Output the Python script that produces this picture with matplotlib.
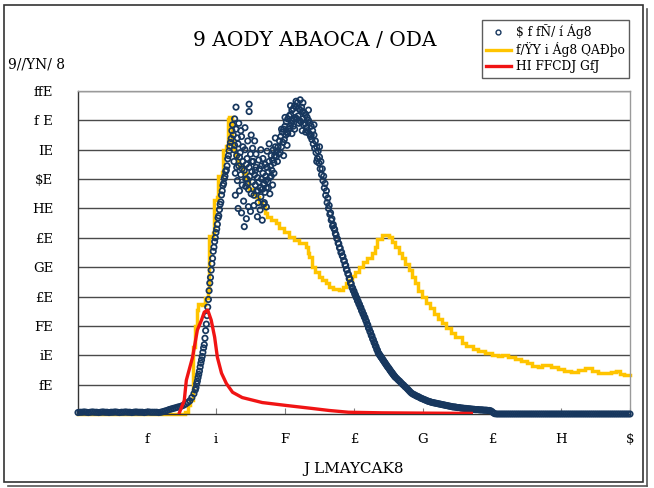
import numpy as np
import matplotlib
matplotlib.use("Agg")
import matplotlib.pyplot as plt
from matplotlib.lines import Line2D
from matplotlib.patches import Rectangle

# ---------------- data ----------------
title = "9 AODY ABAOCA / ODA"
y_label = "9//YN/ 8"
x_label = "J LMAYCAK8"
series_names = ["$ f fÑ/ í Ág8", "f/ŸY i Ág8 QAÐþo", "HI FFCDJ GfJ"]

x_ticks = [1, 2, 3, 4, 5, 6, 7, 8]
x_tick_labels = ["f", "i", "F", "£", "G", "£", "H", "$"]
y_ticks = [10, 20, 30, 40, 50, 60, 70, 80, 90, 100, 110]
y_tick_labels = ["fE", "iE", "FE", "£E", "GE", "£E", "HE", "$E", "IE", "f E", "ffE"]

# blue scatter series, by segment (segment x range + values)
blue_seg1_range = (0.00, 1.14)
blue_seg1 = [0.5, 0.6, 0.6, 0.7, 0.6, 0.5, 0.6, 0.7, 0.6, 0.6,
             0.5, 0.6, 0.7, 0.6, 0.6, 0.5, 0.6, 0.6, 0.7, 0.6,
             0.5, 0.6, 0.6, 0.7, 0.6, 0.6, 0.5, 0.6, 0.7, 0.6,
             0.6, 0.6, 0.5, 0.6, 0.7, 0.6, 0.6, 0.6, 0.6]
blue_seg2_range = (1.17, 1.68)
blue_seg2 = [0.5, 0.6, 0.8, 1.0, 1.2, 1.5, 1.7, 1.9, 2.1, 2.3, 2.5, 2.7, 3.0, 3.4,
             3.9, 4.5, 5.6, 6.9]
blue_seg3_range = (1.70, 2.24)
blue_seg3 = [8.2, 9.0, 10.3, 11.2, 12.4, 13.5, 14.6, 16.0, 17.3, 18.4,
             19.6, 21.0, 22.5, 23.6, 25.8, 28.4, 30.6, 33.5, 36.4, 39.0,
             42.0, 44.6, 46.5, 49.0, 51.2, 53.0, 55.4, 56.8, 58.7, 60.0,
             61.8, 63.0, 64.6, 66.8, 67.5, 69.6, 71.4, 72.2, 74.6, 76.0,
             77.8, 78.5, 80.2, 81.0, 82.6, 83.1, 84.5, 86.9, 88.0, 89.6,
             91.2, 92.5, 93.8, 96.5, 98.5]
blue_seg4_range = (2.25, 2.87)
blue_seg4 = [95.0, 86.0, 91.5, 82.0, 97.0, 88.0, 79.5, 92.0, 84.5, 76.0,
             89.0, 81.5, 94.5, 78.0, 86.0, 72.5, 83.0, 90.0, 77.5, 85.0,
             80.0, 93.0, 76.5, 84.0, 81.0, 88.5, 75.0, 82.5, 79.0, 86.0,
             74.5, 81.5, 78.0, 84.0, 76.0, 80.5, 72.0, 79.0, 83.5, 77.0,
             74.0, 80.0, 76.5, 82.0, 71.5, 78.5, 75.5, 81.0, 77.0, 84.0,
             79.0, 82.5, 86.0, 80.5, 84.5, 88.0, 83.0, 86.5, 90.0, 85.5,
             88.0, 91.0, 87.5]
blue_seg5_range = (2.88, 3.70)
blue_seg5 = [89.5, 86.0, 91.0, 88.5, 93.0, 89.0, 94.5, 91.0, 96.0, 92.5,
             97.0, 93.5, 98.0, 95.0, 99.5, 96.0, 100.5, 97.0, 101.5, 98.0,
             102.0, 99.0, 103.5, 100.0, 104.0, 100.5, 105.0, 101.0, 104.5, 100.5,
             106.0, 101.5, 104.0, 100.0, 103.5, 99.5, 104.5, 100.5, 103.0, 98.5,
             102.5, 99.0, 102.0, 97.5, 101.0, 96.5, 100.0, 95.5, 99.0, 94.5,
             98.0, 93.5, 96.5, 92.0, 95.0, 90.5, 93.0, 89.0, 91.0, 87.0,
             89.5, 85.5, 87.5, 83.5, 86.0, 81.5, 83.5, 79.5, 81.0, 77.0,
             78.5, 74.5, 76.0, 72.0, 73.5, 70.0, 71.0, 68.0, 68.5, 66.0,
             66.5, 64.0, 64.5]
blue_seg6_range = (3.71, 4.60)
blue_seg6 = [63.2, 62.8, 61.5, 61.0, 59.8, 59.6, 58.2, 58.0, 56.6, 56.5,
             55.0, 55.1, 53.9, 53.6, 52.3, 52.1, 50.8, 50.6, 49.2, 49.0,
             47.8, 47.5, 46.1, 46.0, 44.6, 44.3, 43.1, 42.9, 42.0, 41.8,
             40.9, 40.6, 39.8, 39.5, 38.6, 38.4, 37.5, 37.3, 36.4, 36.2,
             35.2, 35.0, 34.1, 33.9, 33.0, 32.8, 31.9, 31.5, 30.6, 30.3,
             29.3, 29.0, 28.1, 27.8, 26.8, 26.6, 25.6, 25.3, 24.4, 24.1,
             23.2, 22.9, 22.0, 21.7, 20.9, 20.6, 20.1, 19.9, 19.4, 19.2,
             18.8, 18.4, 18.1, 17.7, 17.4, 17.0, 16.7, 16.3, 16.0, 15.7,
             15.4, 15.0, 14.7, 14.3, 14.1, 13.7, 13.4, 13.1, 12.8, 12.5]
blue_seg7_range = (4.62, 6.04)
blue_seg7 = [12.1, 11.6, 11.2, 10.7, 10.2, 9.8, 9.3, 8.9, 8.4, 7.9,
             7.4, 7.0, 6.7, 6.5, 6.2, 6.0, 5.8, 5.5, 5.3, 5.1,
             4.9, 4.7, 4.5, 4.3, 4.2, 4.0, 3.9, 3.8, 3.7, 3.6,
             3.5, 3.4, 3.3, 3.2, 3.1, 3.0, 2.9, 2.8, 2.7, 2.6,
             2.5, 2.4, 2.4, 2.3, 2.2, 2.2, 2.1, 2.0, 2.0, 1.9,
             1.9, 1.8, 1.8, 1.7, 1.7, 1.6, 1.6, 1.5, 1.5, 1.5,
             1.4, 1.4, 1.4, 1.3, 1.3, 1.3, 1.2, 1.2, 1.1, 0.8,
             0.4, 0.1]
blue_seg8_range = (6.07, 8.00)
blue_seg8 = [0.0, 0.0, 0.0, 0.0, 0.0, 0.0, 0.0, 0.0, 0.0, 0.0,
             0.0, 0.0, 0.0, 0.0, 0.0, 0.0, 0.0, 0.0, 0.0, 0.0,
             0.0, 0.0, 0.0, 0.0, 0.0, 0.0, 0.0, 0.0, 0.0, 0.0,
             0.0, 0.0, 0.0, 0.0, 0.0, 0.0, 0.0, 0.0, 0.0, 0.0,
             0.0, 0.0, 0.0, 0.0, 0.0, 0.0, 0.0, 0.0, 0.0, 0.0,
             0.0, 0.0, 0.0, 0.0, 0.0, 0.0, 0.0, 0.0, 0.0, 0.0,
             0.0, 0.0, 0.0, 0.0, 0.0]
# extra scattered readings in the two humps
blue_extra_x = [2.27, 2.29, 2.31, 2.33, 2.36, 2.39, 2.42, 2.45, 2.48, 2.48,
                2.51, 2.53, 2.56, 2.58, 2.62, 2.65, 2.68, 2.71, 2.74, 2.77,
                2.28, 2.32, 2.37, 2.41, 2.44, 2.47, 2.50, 2.55, 2.60, 2.64,
                2.67, 2.70, 2.73, 2.78, 2.82,
                2.26, 2.30, 2.34, 2.38, 2.43, 2.46, 2.52, 2.57, 2.61, 2.66,
                2.72, 2.76, 2.80, 2.84, 2.86,
                2.95, 3.00, 3.04, 3.08, 3.12, 3.16, 3.20, 3.22, 3.26, 3.30,
                3.34, 3.38, 3.42, 3.46, 3.50, 3.10, 3.03, 2.98, 3.25, 3.14]
blue_extra_y = [100.5, 104.5, 94.0, 99.0, 96.5, 91.0, 97.5, 87.0, 105.5, 103.0,
                95.0, 90.5, 93.0, 88.5, 86.5, 90.0, 87.0, 85.0, 89.5, 92.0,
                74.5, 70.0, 68.5, 63.8, 66.5, 70.6, 69.0, 71.0, 67.2, 69.5,
                66.0, 72.0, 70.5, 75.0, 78.0,
                90.0, 84.0, 87.5, 83.5, 80.0, 78.5, 86.0, 83.0, 76.0, 84.5,
                79.5, 77.0, 81.0, 82.0, 94.0,
                97.0, 101.0, 95.5, 105.0, 98.0, 106.5, 99.0, 107.0, 106.0, 96.0,
                103.5, 95.0, 98.5, 86.0, 91.0, 95.5, 91.5, 88.0, 96.5, 97.0]

# yellow stepped line
yellow_x = [0.00, 1.55, 1.60, 1.63, 1.66, 1.69, 1.72, 1.74, 1.80, 1.84,
            1.88, 1.90, 1.95, 1.97, 2.01, 2.03, 2.08, 2.10, 2.15, 2.17,
            2.19, 2.23, 2.24, 2.27, 2.30, 2.34, 2.39, 2.44, 2.48, 2.53,
            2.58, 2.62, 2.67, 2.71, 2.74, 2.80, 2.87, 2.92, 2.98, 3.06,
            3.13, 3.20, 3.30, 3.33, 3.35, 3.39, 3.44, 3.49, 3.54, 3.59,
            3.64, 3.70, 3.78, 3.84, 3.88, 3.92, 3.97, 4.02, 4.07, 4.13,
            4.19, 4.26, 4.30, 4.34, 4.40, 4.50, 4.55, 4.60, 4.65, 4.70,
            4.74, 4.79, 4.84, 4.88, 4.93, 4.98, 5.04, 5.10, 5.16, 5.22,
            5.27, 5.33, 5.40, 5.47, 5.56, 5.63, 5.72, 5.80, 5.90, 6.00,
            6.08, 6.14, 6.23, 6.33, 6.42, 6.50, 6.58, 6.67, 6.72, 6.85,
            6.95, 7.05, 7.14, 7.25, 7.35, 7.45, 7.53, 7.62, 7.72, 7.80,
            7.86, 7.92, 8.00]
yellow_y = [0.0, 0.8, 3.0, 4.6, 22.7, 30.0, 35.4, 37.5, 37.0, 39.5,
            42.2, 60.5, 61.7, 73.0, 74.0, 81.0, 82.3, 90.0, 91.2, 100.4,
            101.1, 93.0, 90.1, 87.8, 86.0, 84.3, 82.0, 79.9, 76.5, 75.0,
            74.0, 72.3, 70.7, 68.5, 67.2, 66.0, 65.1, 63.5, 62.0, 60.4,
            59.2, 58.3, 57.0, 55.0, 53.5, 50.1, 48.5, 46.8, 45.6, 44.6,
            43.3, 42.5, 42.2, 43.3, 44.5, 45.6, 47.0, 48.5, 50.1, 51.6,
            53.0, 54.9, 57.0, 59.5, 61.1, 60.4, 58.5, 56.8, 54.9, 53.0,
            51.0, 49.1, 46.6, 44.5, 42.0, 39.9, 37.8, 36.0, 34.2, 32.5,
            31.0, 29.4, 27.6, 26.2, 24.1, 23.2, 22.3, 21.6, 20.7, 20.2,
            19.6, 20.2, 19.4, 18.6, 17.9, 17.2, 16.5, 15.9, 16.6, 15.9,
            15.2, 14.6, 14.2, 15.0, 15.6, 14.6, 13.9, 14.0, 14.2, 14.7,
            13.5, 13.2, 13.2]

# red line
red_x = [1.47, 1.54, 1.57, 1.66, 1.73, 1.79, 1.83, 1.88, 1.93, 1.98,
         2.02, 2.08, 2.15, 2.24, 2.38, 2.67, 3.02, 3.39, 3.64, 3.92,
         4.40, 5.00, 5.70]
red_y = [0.5, 4.6, 11.5, 19.3, 28.6, 32.0, 34.7, 35.4, 32.0, 26.2,
         19.3, 13.9, 10.4, 7.4, 5.6, 3.9, 2.9, 1.9, 1.2, 0.6,
         0.4, 0.3, 0.2]

blue_color = "#17375E"
yellow_color = "#FFC400"
red_color = "#F01414"

# ---------------- figure ----------------
W, H = 654, 488
fig = plt.figure(figsize=(W / 100, H / 100), dpi=100)
fig.patch.set_facecolor("white")
font = "DejaVu Serif"

ax = fig.add_axes([78 / W, 1 - 414 / H, (630 - 78) / W, (414 - 91) / H])

bx, by = [], []
for rng, vals in [(blue_seg1_range, blue_seg1), (blue_seg2_range, blue_seg2),
                  (blue_seg3_range, blue_seg3), (blue_seg4_range, blue_seg4),
                  (blue_seg5_range, blue_seg5), (blue_seg6_range, blue_seg6),
                  (blue_seg7_range, blue_seg7), (blue_seg8_range, blue_seg8)]:
    bx.extend(np.linspace(rng[0], rng[1], len(vals)))
    by.extend(vals)
bx.extend(blue_extra_x)
by.extend(blue_extra_y)

ax.plot(yellow_x, yellow_y, color=yellow_color, lw=2.5, drawstyle="steps-post",
        zorder=2, clip_on=False, solid_joinstyle="miter")
ax.scatter(bx, by, s=15, facecolors="none", edgecolors=blue_color,
           linewidths=1.25, zorder=3, clip_on=False)
ax.plot(red_x, red_y, color=red_color, lw=2.4, zorder=4)

ax.set_xlim(0, 8)
ax.set_ylim(0, 110)
ax.set_yticks(y_ticks)
ax.set_yticklabels(y_tick_labels, fontsize=9.5, family=font)
ax.set_xticks(x_ticks)
ax.set_xticklabels(x_tick_labels, fontsize=9.5, family=font)
ax.tick_params(axis="y", length=0, pad=18)
ax.tick_params(axis="x", direction="in", length=4, width=0.8, color="#808080", pad=14)
ax.yaxis.grid(True, color="#4a4a4a", lw=1.0)
ax.set_axisbelow(True)
for side in ["left", "bottom"]:
    ax.spines[side].set_color("#333333")
    ax.spines[side].set_linewidth(1.0)
for side in ["right", "top"]:
    ax.spines[side].set_color("#9a9a9a")
    ax.spines[side].set_linewidth(1.0)

fig.text(315 / W, 1 - 41 / H, title, ha="center", va="center", fontsize=14.5, family=font)
fig.text(8 / W, 1 - 65 / H, y_label, ha="left", va="center", fontsize=10, family=font)
fig.text(354 / W, 1 - 469 / H, x_label, ha="center", va="center", fontsize=11, family=font)

handles = [
    Line2D([], [], ls="none", marker="o", markersize=3.5, markerfacecolor="none",
           markeredgecolor=blue_color, markeredgewidth=1.0),
    Line2D([], [], color=yellow_color, lw=2.4),
    Line2D([], [], color=red_color, lw=2.4),
]
leg = fig.legend(handles, series_names, loc="upper left",
                 bbox_to_anchor=(482 / W, 1 - 20 / H), prop={"family": font, "size": 8.8},
                 frameon=True, fancybox=False, edgecolor="#333333", handlelength=2.0,
                 handletextpad=0.4, borderpad=0.35, labelspacing=0.25, borderaxespad=0)
leg.get_frame().set_linewidth(1.0)

# chart area border with shadow
fig.add_artist(Rectangle((4 / W, 1 - 482 / H), (643 - 4) / W, (482 - 5) / H,
                         transform=fig.transFigure, fill=False, edgecolor="#333333", lw=1.2))
fig.add_artist(Line2D([647 / W, 647 / W], [1 - 9 / H, 1 - 486 / H],
                      transform=fig.transFigure, color="#555555", lw=1.2))
fig.add_artist(Line2D([8 / W, 647 / W], [1 - 486 / H, 1 - 486 / H],
                      transform=fig.transFigure, color="#555555", lw=1.2))

fig.savefig("out.png", dpi=100)
